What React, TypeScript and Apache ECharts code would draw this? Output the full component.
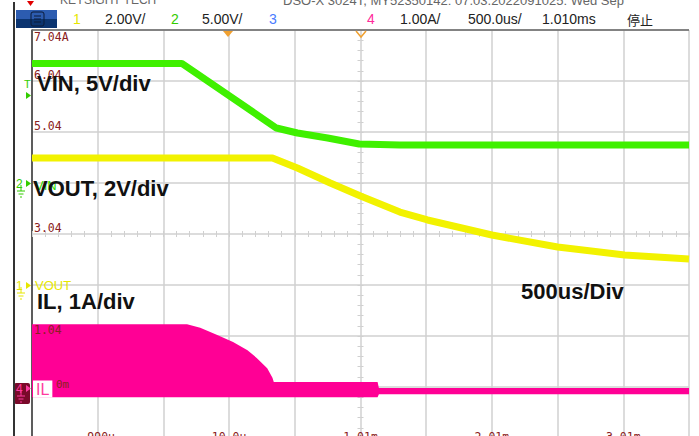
import React, { useEffect, useRef } from 'react';
import * as echarts from 'echarts';

// ---- data ----
// time in ms (screen spans -1.49 ms .. 3.51 ms, 500 us/div)
const vinTime = [-1.49, -0.35, 0.37, 0.53, 0.76, 1.0, 1.31, 3.51];
const vinVolt = [11.72, 11.72, 5.39, 4.9, 4.41, 3.82, 3.73, 3.73];

const voutTime = [-1.49, 0.34, 0.53, 0.78, 1.01, 1.31, 1.52, 2.01, 2.51, 3.02, 3.51];
const voutVolt = [4.98, 4.98, 4.59, 4.0, 3.49, 2.86, 2.55, 1.96, 1.49, 1.18, 1.02];

// inductor current envelope (upper edge left->right, lower edge right->left)
const ilTopTime = [-1.49, -0.31, -0.21, -0.08, 0.04, 0.15, 0.22, 0.3, 0.34, 0.35, 1.14, 1.15, 3.51];
const ilTopAmp = [1.27, 1.27, 1.2, 1.06, 0.92, 0.76, 0.61, 0.41, 0.22, 0.14, 0.14, 0.02, 0.02];
const ilBottomTime = [3.51, 1.15, 1.14, -1.49];
const ilBottomAmp = [-0.1, -0.1, -0.16, -0.16];

// graticule labels (per division)
const timeLabels = ['', '-990u', '', '10.0u', '', '1.01m', '', '2.01m', '', '3.01m', ''];
const scaleLabels = ['', '', '1.04', '', '3.04', '', '5.04', '6.04', ''];

const GRID = '#d0d0d0';
const RED = '#8a2020';
const MONO = 'DejaVu Sans Mono, monospace';
const SANS = 'Liberation Sans, Arial, sans-serif';
const GREEN = '#3ff000';
const YELLOW = '#f2f200';
const MAGENTA = '#ff0095';

function marker(y: number, digit: string, color: string) {
  return [
    { type: 'text', x: 16, y, z: 20, style: { text: digit, fill: color, fontSize: 12, fontFamily: SANS, verticalAlign: 'middle' } },
    { type: 'polygon', z: 20, shape: { points: [[26, y - 4], [26, y + 3], [31, y - 0.5]] }, style: { fill: color } },
    { type: 'line', z: 20, shape: { x1: 21, y1: y + 1, x2: 21, y2: y + 7 }, style: { stroke: color, lineWidth: 1 } },
    { type: 'line', z: 20, shape: { x1: 17, y1: y + 7, x2: 25, y2: y + 7 }, style: { stroke: color, lineWidth: 1 } },
    { type: 'line', z: 20, shape: { x1: 18.5, y1: y + 10, x2: 23.5, y2: y + 10 }, style: { stroke: color, lineWidth: 1 } },
    { type: 'line', z: 20, shape: { x1: 20, y1: y + 13, x2: 22, y2: y + 13 }, style: { stroke: color, lineWidth: 1 } },
  ];
}

export default function App() {
  const ref = useRef<HTMLDivElement>(null);
  useEffect(() => {
    if (!ref.current) return;
    const chart = echarts.init(ref.current, undefined, { renderer: 'svg' });

    const tickAxisX = (inside: boolean) => ({
      type: 'value', min: 0, max: 10, interval: 0.2,
      axisLine: { show: false, onZero: true, onZeroAxisIndex: 4 },
      axisTick: { show: true, inside, length: 3, lineStyle: { color: GRID, width: 1 } },
      axisLabel: { show: false }, splitLine: { show: false },
    });
    const tickAxisY = (inside: boolean) => ({
      type: 'value', min: 0, max: 8, interval: 0.2,
      axisLine: { show: false, onZero: true, onZeroAxisIndex: 4 },
      axisTick: { show: true, inside, length: 3, lineStyle: { color: GRID, width: 1 } },
      axisLabel: { show: false }, splitLine: { show: false },
    });

    const header = [
      { t: '1', x: 73, c: '#e6e600' },
      { t: '2.00V/', x: 105, c: '#222' },
      { t: '2', x: 171, c: '#33cc00' },
      { t: '5.00V/', x: 202, c: '#222' },
      { t: '3', x: 269, c: '#4a7cff' },
      { t: '4', x: 367, c: '#ff2a9a' },
      { t: '1.00A/', x: 400, c: '#222' },
      { t: '500.0us/', x: 468, c: '#222' },
      { t: '1.010ms', x: 542, c: '#222' },
    ].map((h) => ({ type: 'text', x: h.x, y: 19, z: 20, style: { text: h.t, fill: h.c, fontSize: 14, fontFamily: SANS, verticalAlign: 'middle' } }));

    const bigText = (text: string, x: number, y: number) => ({
      type: 'text', x, y, z: 30,
      style: { text, fill: '#111', fontSize: 22, fontWeight: 'bold', fontFamily: SANS, verticalAlign: 'middle' },
    });

    const option = {
      animation: false,
      backgroundColor: '#ffffff',
      grid: { left: 32, top: 30, width: 657, height: 408, containLabel: false, outerBoundsMode: 'none' },
      xAxis: [
        {
          type: 'value', min: 0, max: 10, interval: 1,
          axisLine: { show: false, onZero: false }, axisTick: { show: false },
          splitLine: { show: true, lineStyle: { color: GRID, width: 1.5 } },
          axisLabel: {
            show: true, inside: true, margin: 7, verticalAlign: 'top', color: RED,
            fontFamily: MONO, fontSize: 11.5, showMinLabel: true, showMaxLabel: true,
            formatter: (v: number) => timeLabels[Math.round(v)] ?? '',
          },
        },
        { type: 'value', min: -1.49, max: 3.51, show: false, axisLine: { onZero: false } },
        tickAxisX(false),
        tickAxisX(true),
        { type: 'value', min: -5, max: 5, show: false, axisLine: { onZero: false } },
      ],
      yAxis: [
        {
          type: 'value', min: 0, max: 8, interval: 1, position: 'left',
          axisLine: { show: true, onZero: false, lineStyle: { color: '#333', width: 1.5 } },
          axisTick: { show: false },
          splitLine: { show: true, lineStyle: { color: GRID, width: 1.5 } },
          axisLabel: { show: false },
        },
        { type: 'value', min: -25, max: 15, show: false, axisLine: { onZero: false } },
        { type: 'value', min: -6, max: 10, show: false, axisLine: { onZero: false } },
        { type: 'value', min: -0.96, max: 7.04, show: false, axisLine: { onZero: false } },
        { type: 'value', min: -4, max: 4, show: false, axisLine: { onZero: false } },
        tickAxisY(false),
        tickAxisY(true),
        {
          // scale labels drawn above the traces
          type: 'value', min: 0, max: 8, interval: 1, z: 10, position: 'left', offset: 0,
          axisLine: { show: false, onZero: false }, axisTick: { show: false }, splitLine: { show: false },
          axisLabel: {
            show: true, inside: true, margin: 2, verticalAlign: 'bottom', color: RED,
            fontFamily: MONO, fontSize: 11.5, showMinLabel: true, showMaxLabel: true,
            formatter: (v: number) => scaleLabels[Math.round(v)] ?? '',
          },
        },
      ],
      series: [
        {
          name: 'IL', type: 'custom', xAxisIndex: 1, yAxisIndex: 3, clip: true, silent: true, z: 3,
          data: [[ilTopTime[0], ilTopAmp[0]]],
          renderItem: (_params: any, api: any) => {
            const pts: number[][] = [];
            ilTopTime.forEach((t, i) => pts.push(api.coord([t, ilTopAmp[i]])));
            ilBottomTime.forEach((t, i) => pts.push(api.coord([t, ilBottomAmp[i]])));
            return { type: 'polygon', shape: { points: pts }, style: { fill: MAGENTA } };
          },
        },
        {
          name: 'VOUT', type: 'line', xAxisIndex: 1, yAxisIndex: 2, symbol: 'none', z: 4,
          data: voutTime.map((t, i) => [t, voutVolt[i]]),
          lineStyle: { color: YELLOW, width: 7, cap: 'butt', join: 'bevel' },
        },
        {
          name: 'VIN', type: 'line', xAxisIndex: 1, yAxisIndex: 1, symbol: 'none', z: 5,
          data: vinTime.map((t, i) => [t, vinVolt[i]]),
          lineStyle: { color: GREEN, width: 7, cap: 'butt', join: 'bevel' },
        },
      ],
      graphic: [
        // top cut-off info line
        { type: 'text', x: 60, y: 0, z: 20, style: { text: 'KEYSIGHT TECH', fill: '#666', fontSize: 12, fontFamily: SANS, verticalAlign: 'middle' } },
        { type: 'text', x: 283, y: 0, z: 20, style: { text: 'DSO-X 3024T, MY52350142: 07.03.2022091025: Wed Sep', fill: '#666', fontSize: 13, fontFamily: SANS, verticalAlign: 'middle' } },
        { type: 'polygon', z: 20, shape: { points: [[27, 1], [34, 1], [30.5, 6]] }, style: { fill: '#e00000' } },
        // left frame line
        { type: 'rect', z: 20, shape: { x: 13, y: 2, width: 2, height: 434 }, style: { fill: '#333' } },
        // menu button
        { type: 'rect', z: 21, shape: { x: 16, y: 10, width: 41, height: 9 }, style: { fill: '#2c5cb0' } },
        { type: 'rect', z: 21, shape: { x: 16, y: 19, width: 41, height: 9 }, style: { fill: '#0b3470' } },
        { type: 'rect', z: 22, shape: { x: 31, y: 12, width: 13, height: 14, r: 2 }, style: { fill: 'none', stroke: '#0a1a38', lineWidth: 1 } },
        { type: 'line', z: 22, shape: { x1: 34, y1: 16, x2: 41, y2: 16 }, style: { stroke: '#0a1a38', lineWidth: 1 } },
        { type: 'line', z: 22, shape: { x1: 34, y1: 19, x2: 41, y2: 19 }, style: { stroke: '#0a1a38', lineWidth: 1 } },
        { type: 'line', z: 22, shape: { x1: 34, y1: 22, x2: 41, y2: 22 }, style: { stroke: '#0a1a38', lineWidth: 1 } },
        ...header,
        { type: 'text', x: 627, y: 19, z: 20, style: { text: '停止', fill: '#222', fontSize: 13, fontFamily: 'Noto Sans CJK SC', verticalAlign: 'middle' } },
        // top frame
        { type: 'line', z: 20, shape: { x1: 32, y1: 30, x2: 689, y2: 30 }, style: { stroke: '#666', lineWidth: 1.5 } },
        // trigger markers
        { type: 'polygon', z: 21, shape: { points: [[223, 31], [233, 31], [228, 37]] }, style: { fill: '#f0a030' } },
        { type: 'polyline', z: 21, shape: { points: [[356, 31], [361, 37], [366, 31]] }, style: { stroke: '#f0a030', lineWidth: 1.5, fill: 'none' } },
        // scale label at top
        { type: 'text', x: 34, y: 37, z: 20, style: { text: '7.04A', fill: RED, fontSize: 11.5, fontFamily: MONO, verticalAlign: 'middle' } },
        // trigger level
        { type: 'text', x: 24, y: 84, z: 20, style: { text: 'T', fill: '#33cc00', fontSize: 11, fontFamily: SANS, verticalAlign: 'middle' } },
        { type: 'polygon', z: 20, shape: { points: [[26, 92], [26, 99], [31, 95.5]] }, style: { fill: '#33cc00' } },
        // channel ground markers
        ...marker(184, '2', '#33cc00'),
        ...marker(286, '1', '#e6e600'),
        { type: 'rect', z: 19, shape: { x: 14, y: 383, width: 16, height: 21, r: 2 }, style: { fill: '#7a0a2a' } },
        ...marker(389, '4', '#ff3aa0'),
        // channel labels
        { type: 'text', x: 35, y: 185, z: 20, style: { text: 'VIN', fill: '#33dd00', fontSize: 13, fontFamily: SANS, verticalAlign: 'middle' } },
        { type: 'text', x: 35, y: 285, z: 20, style: { text: 'VOUT', fill: '#e8e800', fontSize: 13, fontFamily: SANS, verticalAlign: 'middle' } },
        { type: 'text', x: 33, y: 389, z: 20, style: { text: 'IL', fill: '#ff3aa0', fontSize: 16, fontFamily: SANS, verticalAlign: 'middle', backgroundColor: '#ffffff', padding: [1, 3, 0, 3] } },
        { type: 'text', x: 56, y: 384, z: 20, style: { text: '0m', fill: RED, fontSize: 11, fontFamily: MONO, verticalAlign: 'middle' } },
        // annotations
        bigText('VIN, 5V/div', 37, 83),
        bigText('VOUT, 2V/div', 33, 188),
        bigText('IL, 1A/div', 37, 301),
        bigText('500us/Div', 521, 291),
      ],
    };

    chart.setOption(option as any);
    return () => chart.dispose();
  }, []);

  return <div ref={ref} style={{ position: 'fixed', left: 0, top: 0, width: 699, height: 436, background: '#fff' }} />;
}
